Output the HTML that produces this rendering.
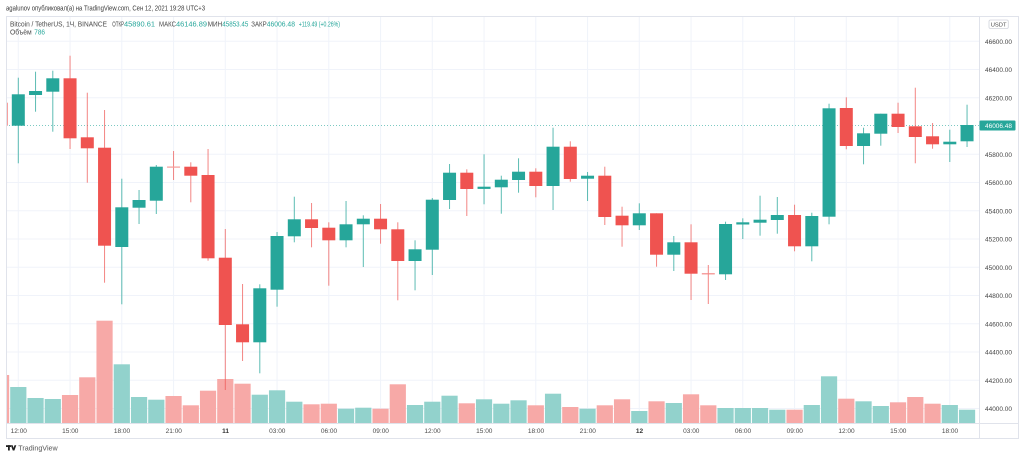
<!DOCTYPE html>
<html><head><meta charset="utf-8"><style>
html,body{margin:0;padding:0;background:#fff;}
svg{display:block;font-family:"Liberation Sans","DejaVu Sans",sans-serif;}
</style></head><body>
<svg width="1024" height="458" viewBox="0 0 1024 458" xmlns="http://www.w3.org/2000/svg">
<defs><clipPath id="pane"><rect x="6.5" y="17" width="972.5" height="406"/></clipPath></defs>
<rect width="1024" height="458" fill="#fff"/>
<text x="6" y="10.5" font-size="7" fill="#3a3a3a" textLength="199" lengthAdjust="spacingAndGlyphs">agalunov опубликовал(а) на TradingView.com, Сен 12, 2021 19:28 UTC+3</text>
<g stroke="#f0f3fa" stroke-width="1">
<line x1="6" y1="41.3" x2="979" y2="41.3"/><line x1="6" y1="69.55" x2="979" y2="69.55"/><line x1="6" y1="97.8" x2="979" y2="97.8"/><line x1="6" y1="154.3" x2="979" y2="154.3"/><line x1="6" y1="182.55" x2="979" y2="182.55"/><line x1="6" y1="210.8" x2="979" y2="210.8"/><line x1="6" y1="239.05" x2="979" y2="239.05"/><line x1="6" y1="267.3" x2="979" y2="267.3"/><line x1="6" y1="295.55" x2="979" y2="295.55"/><line x1="6" y1="323.8" x2="979" y2="323.8"/><line x1="6" y1="352.05" x2="979" y2="352.05"/><line x1="6" y1="380.3" x2="979" y2="380.3"/><line x1="6" y1="408.55" x2="979" y2="408.55"/>
<line x1="18.3" y1="17" x2="18.3" y2="423"/><line x1="70.05" y1="17" x2="70.05" y2="423"/><line x1="121.8" y1="17" x2="121.8" y2="423"/><line x1="173.55" y1="17" x2="173.55" y2="423"/><line x1="225.3" y1="17" x2="225.3" y2="423"/><line x1="277.05" y1="17" x2="277.05" y2="423"/><line x1="328.8" y1="17" x2="328.8" y2="423"/><line x1="380.55" y1="17" x2="380.55" y2="423"/><line x1="432.3" y1="17" x2="432.3" y2="423"/><line x1="484.05" y1="17" x2="484.05" y2="423"/><line x1="535.8" y1="17" x2="535.8" y2="423"/><line x1="587.55" y1="17" x2="587.55" y2="423"/><line x1="639.3" y1="17" x2="639.3" y2="423"/><line x1="691.05" y1="17" x2="691.05" y2="423"/><line x1="742.8" y1="17" x2="742.8" y2="423"/><line x1="794.55" y1="17" x2="794.55" y2="423"/><line x1="846.3" y1="17" x2="846.3" y2="423"/><line x1="898.05" y1="17" x2="898.05" y2="423"/><line x1="949.8" y1="17" x2="949.8" y2="423"/>
</g>
<text x="10" y="26.5" font-size="7.5" fill="#4a4a4a" textLength="97" lengthAdjust="spacingAndGlyphs">Bitcoin / TetherUS, 1Ч, BINANCE</text>
<text x="112.3" y="26.5" font-size="7.5" fill="#4a4a4a" textLength="11.7" lengthAdjust="spacingAndGlyphs">ОТКР</text>
<text x="124" y="26.5" font-size="7.5" fill="#26a69a" textLength="31" lengthAdjust="spacingAndGlyphs">45890.61</text>
<text x="159" y="26.5" font-size="7.5" fill="#4a4a4a" textLength="17" lengthAdjust="spacingAndGlyphs">МАКС</text>
<text x="176" y="26.5" font-size="7.5" fill="#26a69a" textLength="31" lengthAdjust="spacingAndGlyphs">46146.89</text>
<text x="207.7" y="26.5" font-size="7.5" fill="#4a4a4a" textLength="14.6" lengthAdjust="spacingAndGlyphs">МИН</text>
<text x="222.3" y="26.5" font-size="7.5" fill="#26a69a" textLength="26" lengthAdjust="spacingAndGlyphs">45853.45</text>
<text x="251.3" y="26.5" font-size="7.5" fill="#4a4a4a" textLength="15.4" lengthAdjust="spacingAndGlyphs">ЗАКР</text>
<text x="266.7" y="26.5" font-size="7.5" fill="#26a69a" textLength="28.3" lengthAdjust="spacingAndGlyphs">46006.48</text>
<text x="298.7" y="26.5" font-size="7.5" fill="#26a69a" textLength="41.3" lengthAdjust="spacingAndGlyphs">+119.49 (+0.26%)</text>
<text x="10" y="34.7" font-size="7.5" fill="#4a4a4a" textLength="21.7" lengthAdjust="spacingAndGlyphs">Объём</text>
<text x="34.3" y="34.7" font-size="7.5" fill="#26a69a" textLength="10.7" lengthAdjust="spacingAndGlyphs">786</text>
<g clip-path="url(#pane)">
<g fill="#92d2cc">
<rect x="10.2" y="387" width="16.2" height="36"/><rect x="27.45" y="398" width="16.2" height="25"/><rect x="44.7" y="399" width="16.2" height="24"/><rect x="113.7" y="364.3" width="16.2" height="58.7"/><rect x="130.95" y="397" width="16.2" height="26"/><rect x="148.2" y="399.7" width="16.2" height="23.3"/><rect x="251.7" y="394.7" width="16.2" height="28.3"/><rect x="268.95" y="390.3" width="16.2" height="32.7"/><rect x="286.2" y="401.7" width="16.2" height="21.3"/><rect x="337.95" y="408.7" width="16.2" height="14.3"/><rect x="355.2" y="407.7" width="16.2" height="15.3"/><rect x="406.95" y="405" width="16.2" height="18"/><rect x="424.2" y="401.7" width="16.2" height="21.3"/><rect x="441.45" y="395.7" width="16.2" height="27.3"/><rect x="475.95" y="399.3" width="16.2" height="23.7"/><rect x="493.2" y="403.7" width="16.2" height="19.3"/><rect x="510.45" y="400.3" width="16.2" height="22.7"/><rect x="544.95" y="393.7" width="16.2" height="29.3"/><rect x="579.45" y="408.7" width="16.2" height="14.3"/><rect x="631.2" y="411" width="16.2" height="12"/><rect x="665.7" y="403" width="16.2" height="20"/><rect x="717.45" y="408" width="16.2" height="15"/><rect x="734.7" y="408" width="16.2" height="15"/><rect x="751.95" y="408" width="16.2" height="15"/><rect x="769.2" y="409.7" width="16.2" height="13.3"/><rect x="803.7" y="405" width="16.2" height="18"/><rect x="820.95" y="376.3" width="16.2" height="46.7"/><rect x="855.45" y="401.3" width="16.2" height="21.7"/><rect x="872.7" y="406" width="16.2" height="17"/><rect x="941.7" y="405" width="16.2" height="18"/><rect x="958.95" y="409.7" width="16.2" height="13.3"/>
</g>
<g fill="#f7a9a7">
<rect x="-7.05" y="375" width="16.2" height="48"/><rect x="61.95" y="395" width="16.2" height="28"/><rect x="79.2" y="377.3" width="16.2" height="45.7"/><rect x="96.45" y="320.7" width="16.2" height="102.3"/><rect x="165.45" y="396" width="16.2" height="27"/><rect x="182.7" y="405.3" width="16.2" height="17.7"/><rect x="199.95" y="390.7" width="16.2" height="32.3"/><rect x="217.2" y="379" width="16.2" height="44"/><rect x="234.45" y="383.7" width="16.2" height="39.3"/><rect x="303.45" y="404.3" width="16.2" height="18.7"/><rect x="320.7" y="403.7" width="16.2" height="19.3"/><rect x="372.45" y="408.7" width="16.2" height="14.3"/><rect x="389.7" y="384.3" width="16.2" height="38.7"/><rect x="458.7" y="403.3" width="16.2" height="19.7"/><rect x="527.7" y="405.3" width="16.2" height="17.7"/><rect x="562.2" y="407" width="16.2" height="16"/><rect x="596.7" y="405.3" width="16.2" height="17.7"/><rect x="613.95" y="399.3" width="16.2" height="23.7"/><rect x="648.45" y="401.3" width="16.2" height="21.7"/><rect x="682.95" y="394.3" width="16.2" height="28.7"/><rect x="700.2" y="405.3" width="16.2" height="17.7"/><rect x="786.45" y="409.7" width="16.2" height="13.3"/><rect x="838.2" y="398.7" width="16.2" height="24.3"/><rect x="889.95" y="402.3" width="16.2" height="20.7"/><rect x="907.2" y="397" width="16.2" height="26"/><rect x="924.45" y="403.7" width="16.2" height="19.3"/>
</g>
<line x1="6" y1="125.5" x2="979" y2="125.5" stroke="#26a69a" stroke-width="1" stroke-dasharray="1 2" opacity="0.6"/>
<g fill="#26a69a" opacity="0.75">
<rect x="17.8" y="77.7" width="1" height="85.6"/><rect x="35.05" y="71.7" width="1" height="40"/><rect x="52.3" y="70.7" width="1" height="61"/><rect x="121.3" y="178.7" width="1" height="125.6"/><rect x="138.55" y="190" width="1" height="34"/><rect x="155.8" y="165" width="1" height="49"/><rect x="259.3" y="284.3" width="1" height="89"/><rect x="276.55" y="232" width="1" height="74.7"/><rect x="293.8" y="196.7" width="1" height="45.6"/><rect x="345.55" y="201" width="1" height="46.3"/><rect x="362.8" y="215.3" width="1" height="51.7"/><rect x="414.55" y="240.3" width="1" height="50"/><rect x="431.8" y="198" width="1" height="77"/><rect x="449.05" y="164" width="1" height="45"/><rect x="483.55" y="154.3" width="1" height="50"/><rect x="500.8" y="175.7" width="1" height="38"/><rect x="518.05" y="158.3" width="1" height="34.4"/><rect x="552.55" y="127.7" width="1" height="82.3"/><rect x="587.05" y="172" width="1" height="29"/><rect x="638.8" y="203.3" width="1" height="26.7"/><rect x="673.3" y="236" width="1" height="35"/><rect x="725.05" y="221.7" width="1" height="58.3"/><rect x="742.3" y="218.3" width="1" height="20.7"/><rect x="759.55" y="195.7" width="1" height="40"/><rect x="776.8" y="197" width="1" height="36.7"/><rect x="811.3" y="212.7" width="1" height="48.6"/><rect x="828.55" y="103.7" width="1" height="120.6"/><rect x="863.05" y="127.7" width="1" height="36.6"/><rect x="880.3" y="113.7" width="1" height="32"/><rect x="949.3" y="129.7" width="1" height="32.3"/><rect x="966.55" y="104.7" width="1" height="42.3"/>
</g>
<g fill="#ef5350" opacity="0.7">
<rect x="69.55" y="55.7" width="1" height="93.3"/><rect x="86.8" y="92.7" width="1" height="90"/><rect x="104.05" y="110" width="1" height="172.7"/><rect x="173.05" y="151" width="1" height="29"/><rect x="190.3" y="162.3" width="1" height="40"/><rect x="207.55" y="149" width="1" height="111.7"/><rect x="224.8" y="229" width="1" height="161"/><rect x="242.05" y="284" width="1" height="77"/><rect x="311.05" y="203" width="1" height="44.3"/><rect x="328.3" y="222.3" width="1" height="63.4"/><rect x="380.05" y="204" width="1" height="39.7"/><rect x="397.3" y="222.3" width="1" height="78"/><rect x="466.3" y="169.3" width="1" height="46.7"/><rect x="535.3" y="168.3" width="1" height="29"/><rect x="569.8" y="141.3" width="1" height="40.4"/><rect x="604.3" y="166.7" width="1" height="58.3"/><rect x="621.55" y="206.7" width="1" height="40"/><rect x="656.05" y="213.3" width="1" height="53.4"/><rect x="690.55" y="224.3" width="1" height="75.7"/><rect x="707.8" y="265" width="1" height="39"/><rect x="794.05" y="204.7" width="1" height="46.6"/><rect x="845.8" y="97.3" width="1" height="52"/><rect x="897.55" y="102.7" width="1" height="30.3"/><rect x="914.8" y="87.7" width="1" height="75.6"/><rect x="932.05" y="123" width="1" height="25.7"/>
</g>
<g fill="#26a69a">
<rect x="11.8" y="94.3" width="13" height="31.4"/><rect x="29.05" y="91" width="13" height="4"/><rect x="46.3" y="78.3" width="13" height="13.4"/><rect x="115.3" y="207.3" width="13" height="39.7"/><rect x="132.55" y="200" width="13" height="7.7"/><rect x="149.8" y="166.7" width="13" height="34"/><rect x="253.3" y="288.3" width="13" height="54"/><rect x="270.55" y="236" width="13" height="53.7"/><rect x="287.8" y="219.3" width="13" height="17"/><rect x="339.55" y="224.3" width="13" height="16"/><rect x="356.8" y="218.7" width="13" height="5.6"/><rect x="408.55" y="249.3" width="13" height="11.7"/><rect x="425.8" y="199.7" width="13" height="50"/><rect x="443.05" y="172.7" width="13" height="27.3"/><rect x="477.55" y="186.7" width="13" height="2.2"/><rect x="494.8" y="179.7" width="13" height="7.6"/><rect x="512.05" y="171.7" width="13" height="8.3"/><rect x="546.55" y="146.7" width="13" height="39.3"/><rect x="581.05" y="175.7" width="13" height="3"/><rect x="632.8" y="213.3" width="13" height="12"/><rect x="667.3" y="242.3" width="13" height="12.4"/><rect x="719.05" y="224" width="13" height="50.3"/><rect x="736.3" y="222.3" width="13" height="2.2"/><rect x="753.55" y="219.7" width="13" height="3"/><rect x="770.8" y="215" width="13" height="5"/><rect x="805.3" y="216" width="13" height="30.3"/><rect x="822.55" y="108.3" width="13" height="108.4"/><rect x="857.05" y="133.3" width="13" height="12.7"/><rect x="874.3" y="113.7" width="13" height="20"/><rect x="943.3" y="141.7" width="13" height="2.6"/><rect x="960.55" y="125" width="13" height="16.3"/>
</g>
<g fill="#ef5350">
<rect x="-5.45" y="102.7" width="13" height="23"/><rect x="63.55" y="78.3" width="13" height="60"/><rect x="80.8" y="137.3" width="13" height="11"/><rect x="98.05" y="147.7" width="13" height="98"/><rect x="167.05" y="166.5" width="13" height="1.2" fill="#f59c9a"/><rect x="184.3" y="166.7" width="13" height="9"/><rect x="201.55" y="175" width="13" height="83.3"/><rect x="218.8" y="257.7" width="13" height="67.3"/><rect x="236.05" y="324.3" width="13" height="18"/><rect x="305.05" y="219.3" width="13" height="8.7"/><rect x="322.3" y="227.7" width="13" height="12.6"/><rect x="374.05" y="218.7" width="13" height="10.6"/><rect x="391.3" y="229.3" width="13" height="31.7"/><rect x="460.3" y="172.7" width="13" height="16.3"/><rect x="529.3" y="171.7" width="13" height="14.3"/><rect x="563.8" y="146.7" width="13" height="32.3"/><rect x="598.3" y="175.7" width="13" height="41.3"/><rect x="615.55" y="215.7" width="13" height="9.6"/><rect x="650.05" y="213.3" width="13" height="41.4"/><rect x="684.55" y="242.3" width="13" height="31.4"/><rect x="701.8" y="273.2" width="13" height="1.2" fill="#f48a88"/><rect x="788.05" y="215" width="13" height="31.3"/><rect x="839.8" y="108" width="13" height="38"/><rect x="891.55" y="113.7" width="13" height="13.3"/><rect x="908.8" y="126.3" width="13" height="10.7"/><rect x="926.05" y="136.3" width="13" height="8"/>
</g>
</g>
<g fill="none" stroke="#e0e3eb" stroke-width="1">
<rect x="6.5" y="16.5" width="1012" height="422"/>
<line x1="979.5" y1="16.5" x2="979.5" y2="438.5"/>
<line x1="6.5" y1="423.5" x2="1018.5" y2="423.5"/>
</g>
<rect x="989" y="20" width="19.3" height="8.5" rx="1.5" fill="#fff" stroke="#d1d4dc" stroke-width="0.8"/>
<text x="998.6" y="26.6" font-size="5.8" fill="#4a4a4a" text-anchor="middle">USDT</text>
<g font-size="6.5" fill="#444">
<text x="985" y="44" textLength="27" lengthAdjust="spacingAndGlyphs">46600.00</text>
<text x="985" y="72.2" textLength="27" lengthAdjust="spacingAndGlyphs">46400.00</text>
<text x="985" y="100.5" textLength="27" lengthAdjust="spacingAndGlyphs">46200.00</text>
<text x="985" y="157" textLength="27" lengthAdjust="spacingAndGlyphs">45800.00</text>
<text x="985" y="185.2" textLength="27" lengthAdjust="spacingAndGlyphs">45600.00</text>
<text x="985" y="213.5" textLength="27" lengthAdjust="spacingAndGlyphs">45400.00</text>
<text x="985" y="241.7" textLength="27" lengthAdjust="spacingAndGlyphs">45200.00</text>
<text x="985" y="270" textLength="27" lengthAdjust="spacingAndGlyphs">45000.00</text>
<text x="985" y="298.2" textLength="27" lengthAdjust="spacingAndGlyphs">44800.00</text>
<text x="985" y="326.5" textLength="27" lengthAdjust="spacingAndGlyphs">44600.00</text>
<text x="985" y="354.7" textLength="27" lengthAdjust="spacingAndGlyphs">44400.00</text>
<text x="985" y="383" textLength="27" lengthAdjust="spacingAndGlyphs">44200.00</text>
<text x="985" y="411.2" textLength="27" lengthAdjust="spacingAndGlyphs">44000.00</text>
</g>
<rect x="979.5" y="120.5" width="36" height="10" rx="1" fill="#26a69a"/>
<text x="985" y="128" font-size="6.5" fill="#fff" textLength="27" lengthAdjust="spacingAndGlyphs">46006.48</text>
<g font-size="6.5" fill="#4a4a4a" text-anchor="middle">
<text x="18.8" y="433">12:00</text><text x="70.3" y="433">15:00</text><text x="122" y="433">18:00</text><text x="173.8" y="433">21:00</text><text x="225.5" y="433" font-weight="bold" fill="#333">11</text><text x="277.3" y="433">03:00</text><text x="329" y="433">06:00</text><text x="380.8" y="433">09:00</text><text x="432.5" y="433">12:00</text><text x="484.3" y="433">15:00</text><text x="536" y="433">18:00</text><text x="587.8" y="433">21:00</text><text x="639.5" y="433" font-weight="bold" fill="#333">12</text><text x="691.3" y="433">03:00</text><text x="743" y="433">06:00</text><text x="794.8" y="433">09:00</text><text x="846.5" y="433">12:00</text><text x="898.3" y="433">15:00</text><text x="950" y="433">18:00</text>
</g>
<g fill="#222">
<rect x="6" y="445.2" width="5" height="1.8"/><rect x="8" y="445.2" width="1.8" height="5.3"/>
<path d="M10.8 445.2 L12.7 445.2 L13.6 448 L14.5 445.2 L16.3 445.2 L14.4 450.5 L12.8 450.5 Z"/>
</g>
<text x="18.3" y="450.5" font-size="7.5" fill="#555" textLength="39.4" lengthAdjust="spacingAndGlyphs">TradingView</text>
</svg>
</body></html>
